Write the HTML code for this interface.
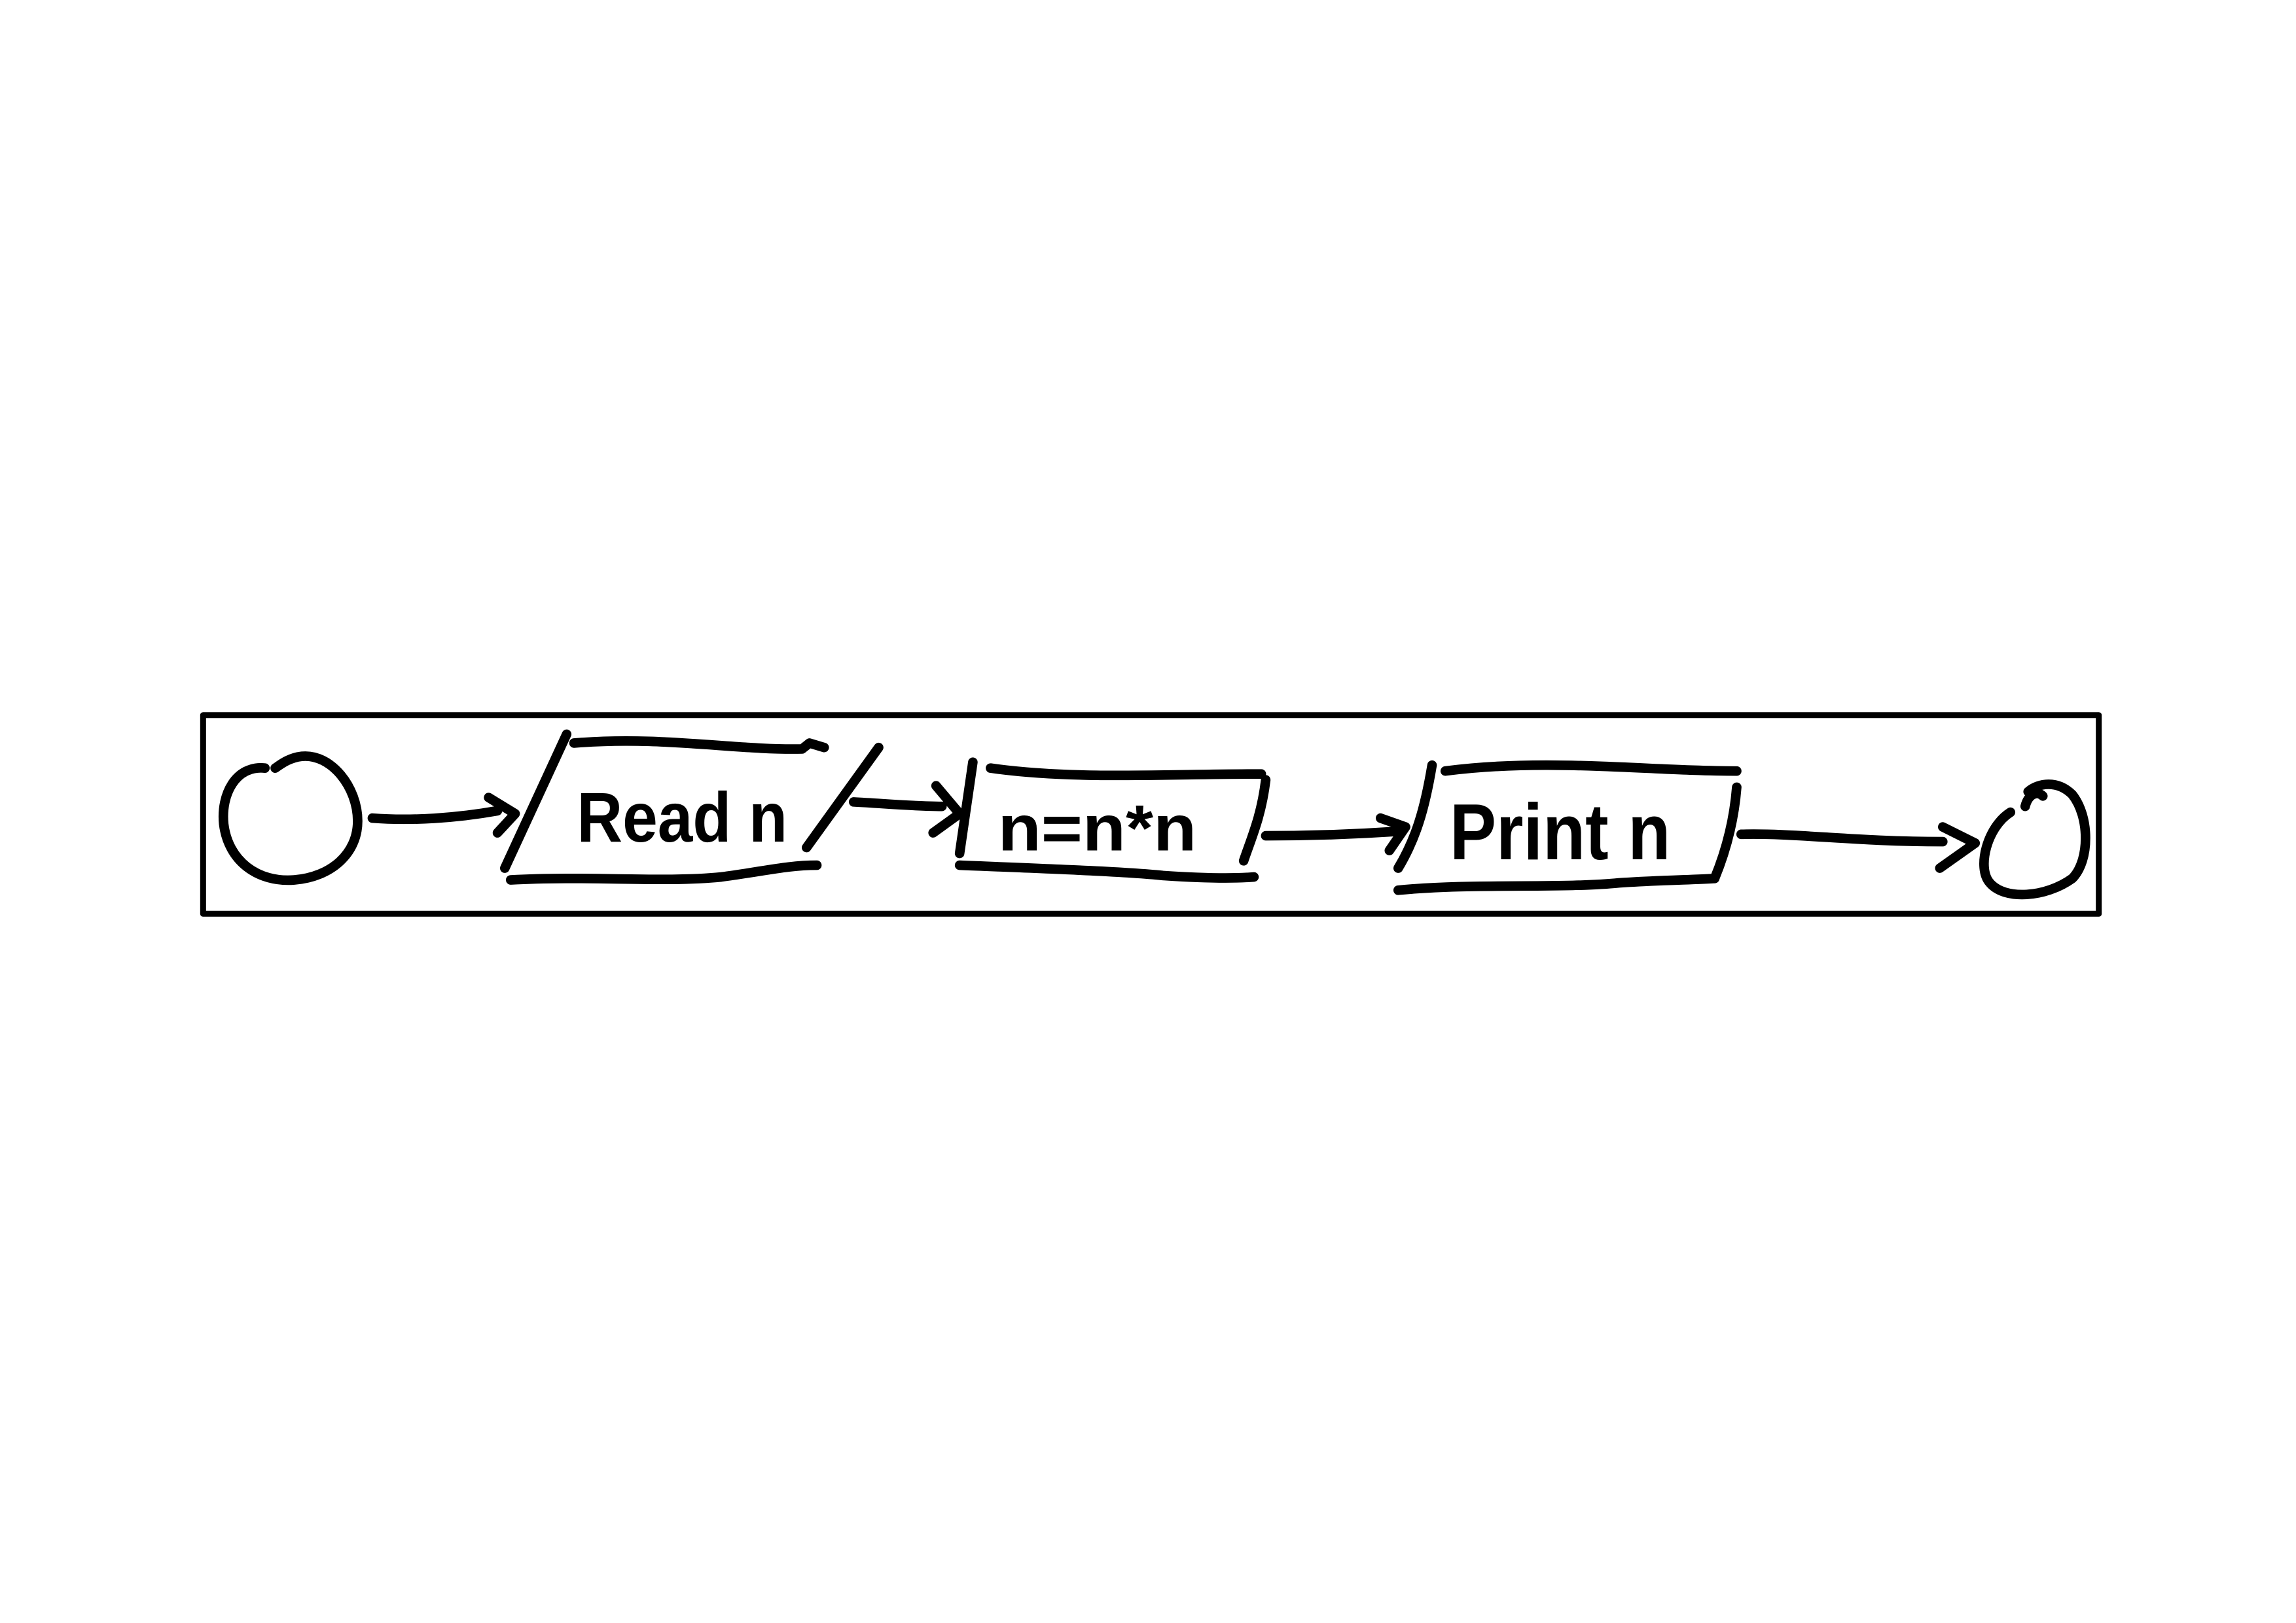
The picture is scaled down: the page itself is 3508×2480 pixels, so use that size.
<!DOCTYPE html>
<html><head><meta charset="utf-8"><style>
html,body{margin:0;padding:0;background:#fff;}
svg{display:block;}
text{font-family:"Liberation Sans",sans-serif;fill:#000;font-weight:bold;}
</style></head><body>
<svg width="3508" height="2480" viewBox="0 0 1560 1103" preserveAspectRatio="none">
<g fill="none" stroke="#000" stroke-width="6.5" stroke-linecap="round" stroke-linejoin="round">
<rect x="138" y="486" width="1288" height="135" stroke-width="4"/>
<path d="M180,522 C160,520 150,540 152,560 C155,585 175,600 200,598 C225,596 243,580 243,558 C243,535 225,512 205,514 C196,515 190,520 187,522"/>
<path d="M253,556 C280,558 310,556 338,551 M332,542 L350,553 L338,566"/>
<path d="M385,499 L343,590"/>
<path d="M390,505 C450,500 500,510 545,509 L550,505 L560,508"/>
<path d="M597,508 L548,576"/>
<path d="M347,598 C400,595 450,600 490,596 C520,592 535,588 555,588"/>
<path d="M580,545 C600,546 620,548 640,548 M636,534 L652,553 L634,566"/>
<path d="M661,518 L652,580"/>
<path d="M673,522 C730,530 790,526 857,526"/>
<path d="M860,530 C857,555 850,570 845,585"/>
<path d="M652,588 C700,590 760,592 790,595 C820,597 840,597 852,596"/>
<path d="M860,568 C890,568 920,567 950,565 M938,556 L955,562 L944,578"/>
<path d="M973,520 C968,550 962,570 950,590"/>
<path d="M982,524 C1050,515 1120,524 1180,524"/>
<path d="M1180,535 C1178,560 1172,580 1165,597"/>
<path d="M950,605 C1000,600 1060,604 1100,600 C1130,598 1150,598 1165,597"/>
<path d="M1183,567 C1220,566 1260,572 1320,572 M1320,562 L1342,573 L1318,590"/>
<path d="M1376,548 C1378,540 1384,537 1388,541 M1366,552 C1350,562 1343,590 1352,600 C1362,612 1390,610 1408,597 C1420,585 1420,555 1408,540 C1398,530 1385,532 1378,538"/>
</g>
<text x="392" y="572" font-size="48" textLength="143" lengthAdjust="spacingAndGlyphs">Read n</text>
<text x="678" y="578" font-size="44" textLength="135" lengthAdjust="spacingAndGlyphs">n=n*n</text>
<text x="985" y="584" font-size="54" textLength="150" lengthAdjust="spacingAndGlyphs">Print n</text>
</svg>
</body></html>
